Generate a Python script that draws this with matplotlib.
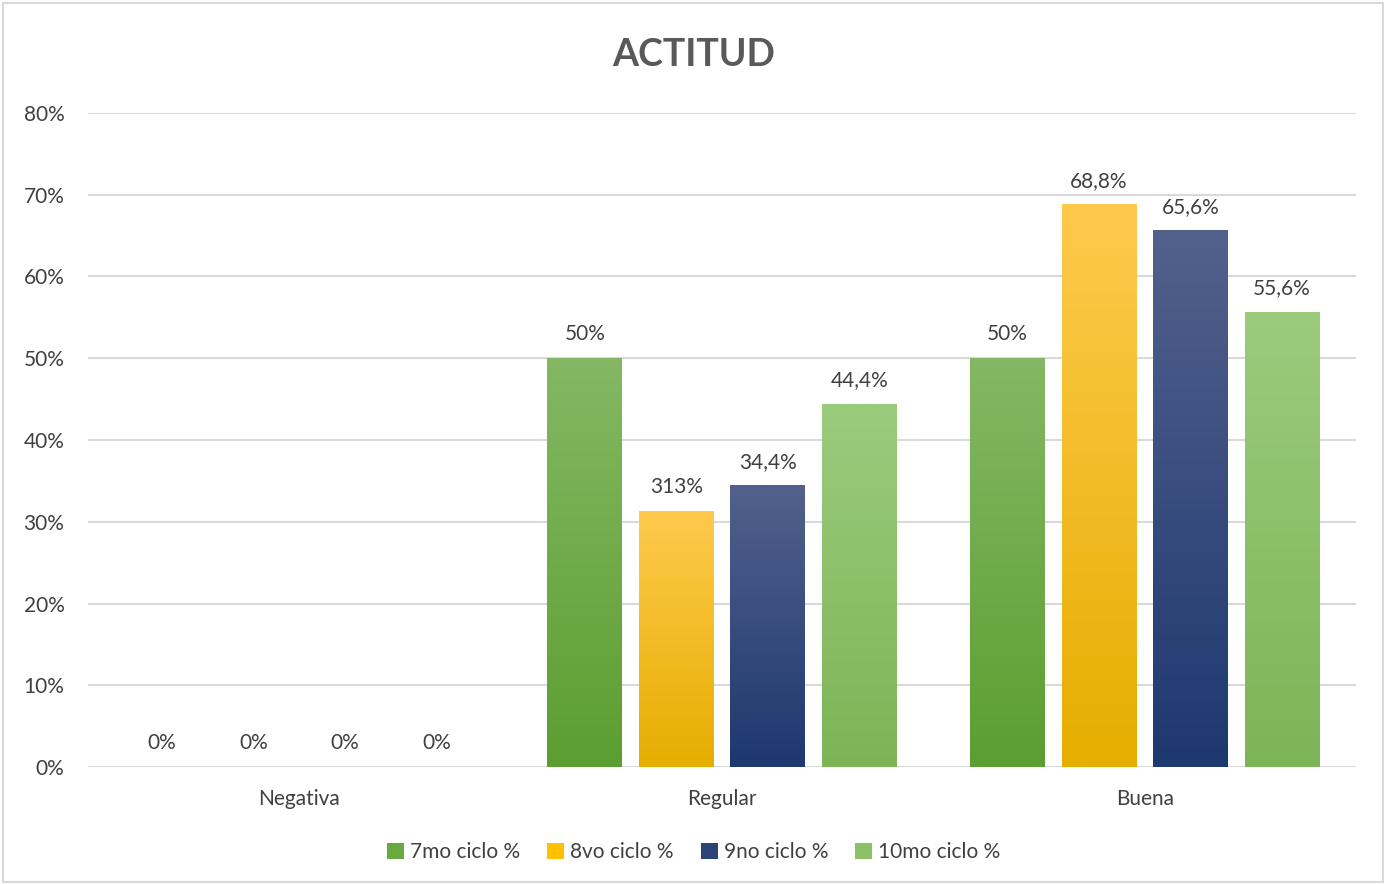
import numpy as np
import matplotlib
matplotlib.use("Agg")
import matplotlib.pyplot as plt
from matplotlib.patches import Patch, Rectangle
from matplotlib.colors import LinearSegmentedColormap

# data
categorias = ["Negativa", "Regular", "Buena"]
series = ["7mo ciclo %", "8vo ciclo %", "9no ciclo %", "10mo ciclo %"]
ciclo7 = [0.0, 50.0, 50.0]
ciclo8 = [0.0, 31.3, 68.8]
ciclo9 = [0.0, 34.4, 65.6]
ciclo10 = [0.0, 44.4, 55.6]
etiquetas7 = ["0%", "50%", "50%"]
etiquetas8 = ["0%", "313%", "68,8%"]
etiquetas9 = ["0%", "34,4%", "65,6%"]
etiquetas10 = ["0%", "44,4%", "55,6%"]
yticks = [0, 10, 20, 30, 40, 50, 60, 70, 80]

valores = [ciclo7, ciclo8, ciclo9, ciclo10]
etiquetas = [etiquetas7, etiquetas8, etiquetas9, etiquetas10]
# (top colour, bottom colour) for the gradient fill
colores = [("#84B864", "#5C9E31"),
           ("#FFC94D", "#E5AE00"),
           ("#52618C", "#1E3870"),
           ("#9BCB7C", "#7CB557")]
legend_cols = ["#6AA842", "#FFC000", "#2B4478", "#8CC168"]

plt.rcParams['font.family'] = ['Lato', 'DejaVu Sans']
txt = "#404040"

fig = plt.figure(figsize=(13.88, 8.84), dpi=100)
ax = fig.add_axes([88/1388, 117/884, (1356-88)/1388, (771-117)/884])

# chart border
fig.patches.append(Rectangle((3/1388, 2/884), 1380/1388, 879/884,
                             transform=fig.transFigure, fill=False,
                             edgecolor="#D9D9D9", linewidth=1.5))

x = np.arange(len(categorias))
w = 0.177
step = 0.2165
offs = [-1.5, -0.5, 0.5, 1.5]

for i in range(4):
    cmap = LinearSegmentedColormap.from_list("g%d" % i, [colores[i][1], colores[i][0]])
    for j in range(len(categorias)):
        xc = x[j] + offs[i] * step
        v = valores[i][j]
        if v > 0:
            grad = np.linspace(0, 1, 256).reshape(-1, 1)
            ax.imshow(grad, cmap=cmap, origin="lower", aspect="auto",
                      extent=[xc - w/2, xc + w/2, 0, v], zorder=3)
        ax.annotate(etiquetas[i][j], (xc, v), xytext=(0, 10),
                    textcoords="offset points", ha="center", va="bottom",
                    fontsize=15, color=txt)

ax.set_xlim(-0.5, 2.5)
ax.set_ylim(0, 80)
ax.set_yticks(yticks)
ax.set_yticklabels(["%d%%" % t for t in yticks])
ax.set_xticks(x)
ax.set_xticklabels(categorias)
ax.tick_params(axis="both", length=0, labelsize=15, colors=txt)
ax.tick_params(axis="x", pad=16)
ax.tick_params(axis="y", pad=17)
ax.grid(axis="y", color="#D9D9D9", linewidth=1.5, zorder=0)
ax.set_axisbelow(True)
for s in ax.spines.values():
    s.set_visible(False)

fig.text(0.5, 1 - 55/884, "ACTITUD", ha="center", va="center",
         fontsize=27, fontweight="bold", color="#595959")

handles = [Patch(facecolor=legend_cols[i], label=series[i]) for i in range(4)]
fig.legend(handles=handles, loc="center", bbox_to_anchor=(0.5, 1 - 852/884),
           ncol=4, frameon=False, fontsize=15, labelcolor=txt,
           handlelength=0.8, handleheight=0.8, handletextpad=0.3, columnspacing=1.3)

fig.savefig("out.png", dpi=100)
